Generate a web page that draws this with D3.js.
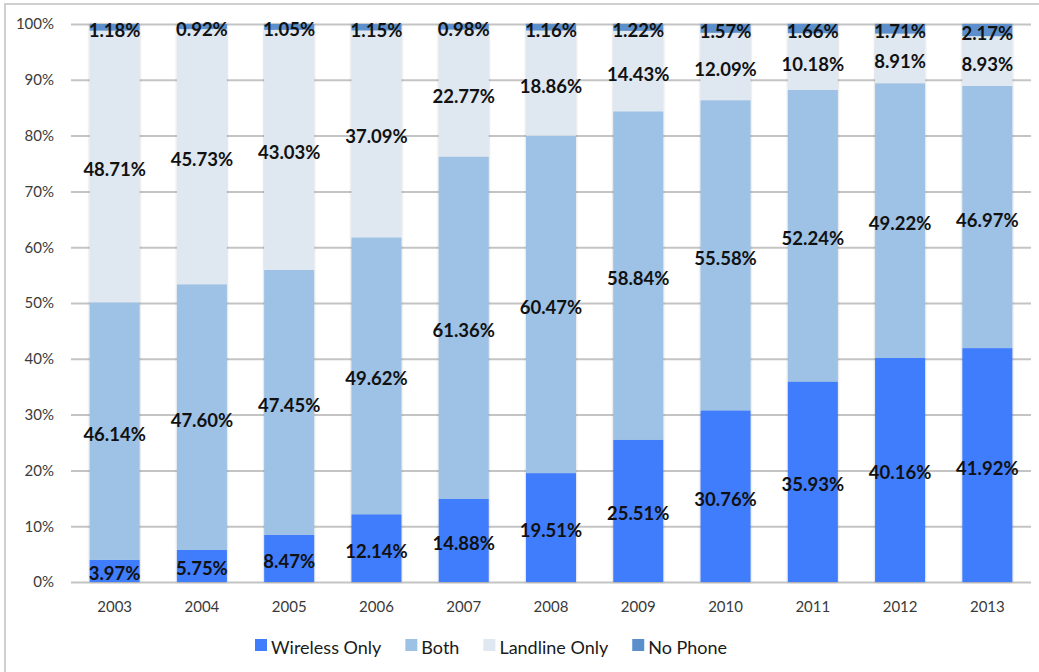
<!DOCTYPE html>
<html>
<head>
<meta charset="utf-8">
<script src="https://cdn.jsdelivr.net/npm/d3@7/dist/d3.min.js"></script>
<style>
  html, body { margin: 0; padding: 0; background: #ffffff; }
  svg { display: block; font-family: Lato, "Open Sans", sans-serif; }
</style>
</head>
<body>
<svg id="chart" width="1039" height="672"></svg>
<script>
// Household phone status, share of households by year
const years = ["2003", "2004", "2005", "2006", "2007", "2008", "2009", "2010", "2011", "2012", "2013"];
const wirelessOnly = [3.97, 5.75, 8.47, 12.14, 14.88, 19.51, 25.51, 30.76, 35.93, 40.16, 41.92];
const both         = [46.14, 47.60, 47.45, 49.62, 61.36, 60.47, 58.84, 55.58, 52.24, 49.22, 46.97];
const landlineOnly = [48.71, 45.73, 43.03, 37.09, 22.77, 18.86, 14.43, 12.09, 10.18, 8.91, 8.93];
const noPhone      = [1.18, 0.92, 1.05, 1.15, 0.98, 1.16, 1.22, 1.57, 1.66, 1.71, 2.17];
const seriesNames  = ["Wireless Only", "Both", "Landline Only", "No Phone"];
const yTicks = [0, 10, 20, 30, 40, 50, 60, 70, 80, 90, 100];

const colors = {
  "Wireless Only": "#407dfd",
  "Both": "#9dc2e6",
  "Landline Only": "#dfe8f1",
  "No Phone": "#5b8fcb"
};

const rows = years.map((y, i) => ({
  year: y,
  "Wireless Only": wirelessOnly[i],
  "Both": both[i],
  "Landline Only": landlineOnly[i],
  "No Phone": noPhone[i]
}));

const svg = d3.select("#chart");
const plot = { left: 71, right: 1031, top: 24, bottom: 582 };

// outer frame (top and left edges visible)
svg.append("path")
  .attr("d", "M5,672 L5,4 L1039,4")
  .attr("fill", "none")
  .attr("stroke", "#cfcfcf")
  .attr("stroke-width", 2);

const x = d3.scaleBand()
  .domain(years)
  .range([plot.left, plot.right])
  .paddingInner(0.427)
  .paddingOuter(0.2135);

const y = d3.scaleLinear()
  .domain([0, 100])
  .range([plot.bottom, plot.top]);

// soft shadow around each bar
const defs = svg.append("defs");
const f = defs.append("filter").attr("id", "barShadow")
  .attr("x", "-10%").attr("y", "-2%").attr("width", "120%").attr("height", "104%");
f.append("feDropShadow")
  .attr("dx", 0).attr("dy", 0)
  .attr("stdDeviation", 1.1)
  .attr("flood-color", "#000000")
  .attr("flood-opacity", 0.28);

// gridlines + y labels
const yAxis = d3.axisLeft(y)
  .tickValues(yTicks)
  .tickSize(-(plot.right - plot.left))
  .tickPadding(17)
  .tickFormat(d => d + "%");

const gy = svg.append("g")
  .attr("transform", `translate(${plot.left},0)`)
  .call(yAxis);
gy.select(".domain").remove();
gy.selectAll(".tick line").attr("stroke", "#c4c4c4").attr("stroke-width", 2);
gy.selectAll(".tick text")
  .attr("fill", "#3a3a3a")
  .style("font-size", "15px")
  .style("font-family", "Lato, sans-serif");

// stacked bars
const stack = d3.stack().keys(seriesNames);
const stacked = stack(rows);

const barGroups = svg.append("g").selectAll("g.bar")
  .data(years)
  .join("g")
  .attr("class", "bar")
  .attr("filter", "url(#barShadow)");

barGroups.each(function(yr, i) {
  const g = d3.select(this);
  stacked.forEach(layer => {
    const d = layer[i];
    g.append("rect")
      .attr("x", x(yr))
      .attr("width", x.bandwidth())
      .attr("y", y(d[1]))
      .attr("height", y(d[0]) - y(d[1]))
      .attr("fill", colors[layer.key]);
  });
});

// value labels centred on each segment
const labels = svg.append("g")
  .style("font-family", "Lato, sans-serif")
  .style("font-weight", "700")
  .style("font-size", "18.5px")
  .attr("fill", "#111111")
  .attr("text-anchor", "middle");

stacked.forEach(layer => {
  labels.selectAll(null)
    .data(layer)
    .join("text")
    .attr("x", (d, i) => x(years[i]) + x.bandwidth() / 2)
    .attr("y", d => (y(d[0]) + y(d[1])) / 2 + 9.5)
    .text(d => (d[1] - d[0]).toFixed(2) + "%");
});

// x axis labels
const xAxis = d3.axisBottom(x).tickSize(0).tickPadding(19);
const gx = svg.append("g")
  .attr("transform", `translate(0,${plot.bottom})`)
  .call(xAxis);
gx.select(".domain").remove();
gx.selectAll(".tick text")
  .attr("fill", "#3a3a3a")
  .style("font-size", "15px")
  .style("font-family", "Lato, sans-serif");

// legend
const legend = svg.append("g").attr("transform", "translate(255,0)");
let lx = 0;
seriesNames.forEach(name => {
  const item = legend.append("g").attr("transform", `translate(${lx},0)`);
  item.append("rect")
    .attr("x", 0).attr("y", 639)
    .attr("width", 12).attr("height", 12)
    .attr("fill", colors[name]);
  const t = item.append("text")
    .attr("x", 16).attr("y", 654)
    .attr("fill", "#1a1a1a")
    .style("font-size", "18px")
    .style("font-family", "Lato, sans-serif")
    .text(name);
  lx += 16 + t.node().getComputedTextLength() + 24;
});
</script>
</body>
</html>
